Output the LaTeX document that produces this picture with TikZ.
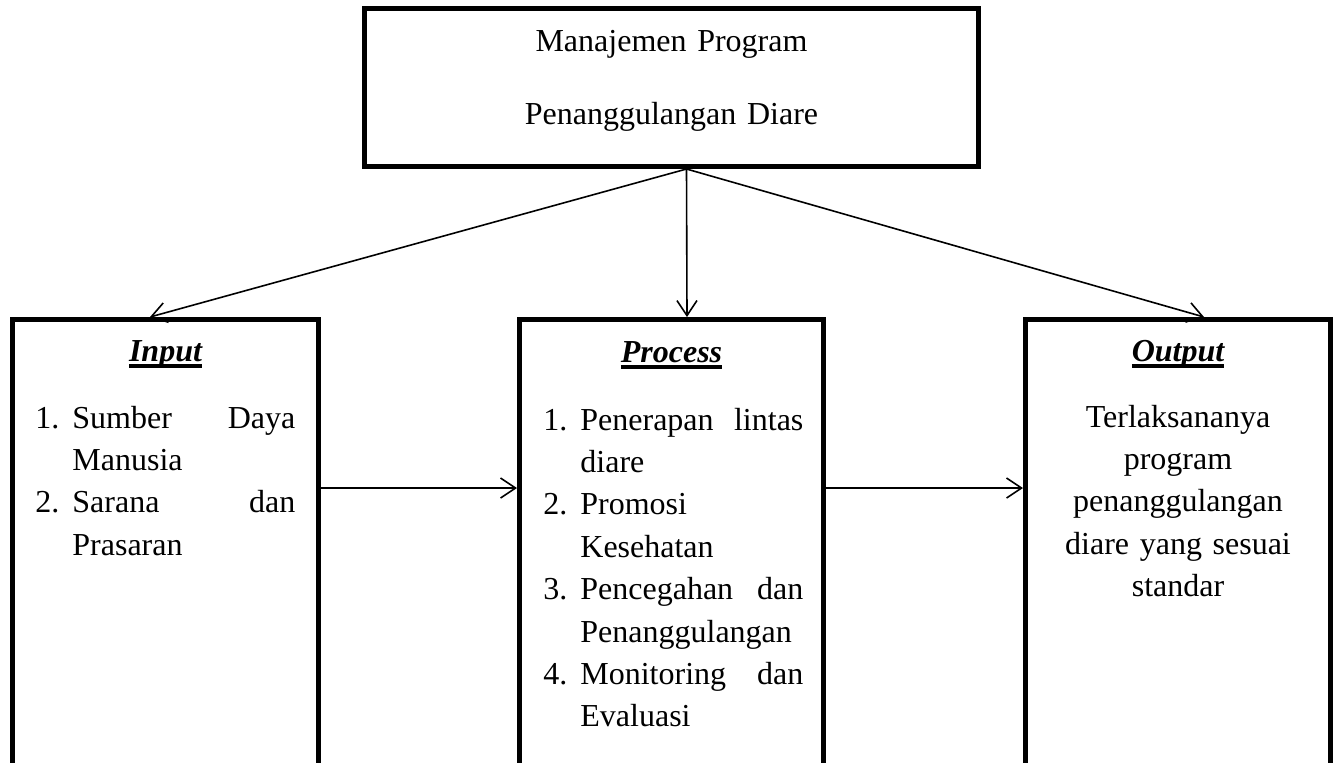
\documentclass[tikz,border=0pt]{standalone}
\usepackage{fontspec}
\usetikzlibrary{arrows.meta}
\setmainfont{Liberation Serif}
\hyphenpenalty=10000
\emergencystretch=150pt
\hbadness=10000

\newsavebox{\kotakjudul}
\newcommand{\garisbawah}[1]{\sbox{\kotakjudul}{#1}\rlap{\rule[-3.3pt]{\wd\kotakjudul}{1.6pt}}\usebox{\kotakjudul}}
\newcommand{\butir}[2]{\noindent\hangindent=18.5pt\hangafter=1\makebox[18.5pt][l]{#1}#2\par}

\tikzset{
  kotak/.style={draw, line width=2.5pt, inner sep=0pt},
  panah/.style={line width=0.8pt, -{Straight Barb[length=7.5pt,width=10pt,line width=0.8pt]}},
  judulkotak/.style={anchor=base, font=\fontsize{16}{21.2}\selectfont\bfseries\itshape},
  daftar/.style={anchor=base west, inner sep=0pt, text width=130pt, align=justify}
}

\begin{document}
\begin{tikzpicture}[x=0.5pt, y=-0.5pt, font=\fontsize{16}{21.2}\selectfont]

\useasboundingbox (0,0) rectangle (1338,762);
\clip (0,0) rectangle (1338,762);

% Top box
\node[kotak, minimum width=307pt, minimum height=79pt] (manajemen) at (671.5,87.5) {};
\node[anchor=base, inner sep=0pt, text width=300pt, align=center,
      font=\fontsize{16}{36.5}\selectfont] (judul) at (671.5,51)
      {Manajemen Program\\Penanggulangan Diare};

% Bottom boxes
\node[kotak, minimum width=153pt, minimum height=240.25pt] (input) at (165.5,559.75) {};
\node[kotak, minimum width=152pt, minimum height=240.25pt] (process) at (671.5,559.75) {};
\node[kotak, minimum width=152.5pt, minimum height=240.25pt] (output) at (1178,559.75) {};

% Titles
\node[judulkotak] (tinput) at (165.5,361) {\garisbawah{Input}};
\node[judulkotak] (tprocess) at (671.5,362) {\garisbawah{Process}};
\node[judulkotak] (toutput) at (1178,361) {\garisbawah{Output}};

% Lists
\node[daftar] (linput) at (35,428) {%
  \butir{1.}{Sumber Daya\linebreak Manusia}%
  \butir{2.}{Sarana dan\linebreak Prasaran}};
\node[daftar] (lprocess) at (543,430) {%
  \butir{1.}{Penerapan lintas\linebreak diare}%
  \butir{2.}{Promosi\linebreak Kesehatan}%
  \butir{3.}{Pencegahan dan\linebreak Penanggulangan}%
  \butir{4.}{Monitoring dan\linebreak Evaluasi}};
\node[anchor=base, inner sep=0pt, text width=150pt, align=center] (loutput) at (1178,427)
  {Terlaksananya\\program\\penanggulangan\\diare yang sesuai\\standar};

% Arrows
\coordinate (puncak) at ([xshift=7.5pt]manajemen.south);
\draw[panah] (puncak) -- ([xshift=-7.75pt]input.north);
\draw[panah] (puncak) -- ([xshift=7.75pt]process.north);
\draw[panah] (puncak) -- ([xshift=13pt]output.north);
\draw[panah] ([yshift=35.875pt]input.east) -- ([yshift=35.875pt]input.east -| process.west);
\draw[panah] ([yshift=35.875pt]process.east) -- ([yshift=35.875pt]process.east -| output.west);

\end{tikzpicture}
\end{document}
